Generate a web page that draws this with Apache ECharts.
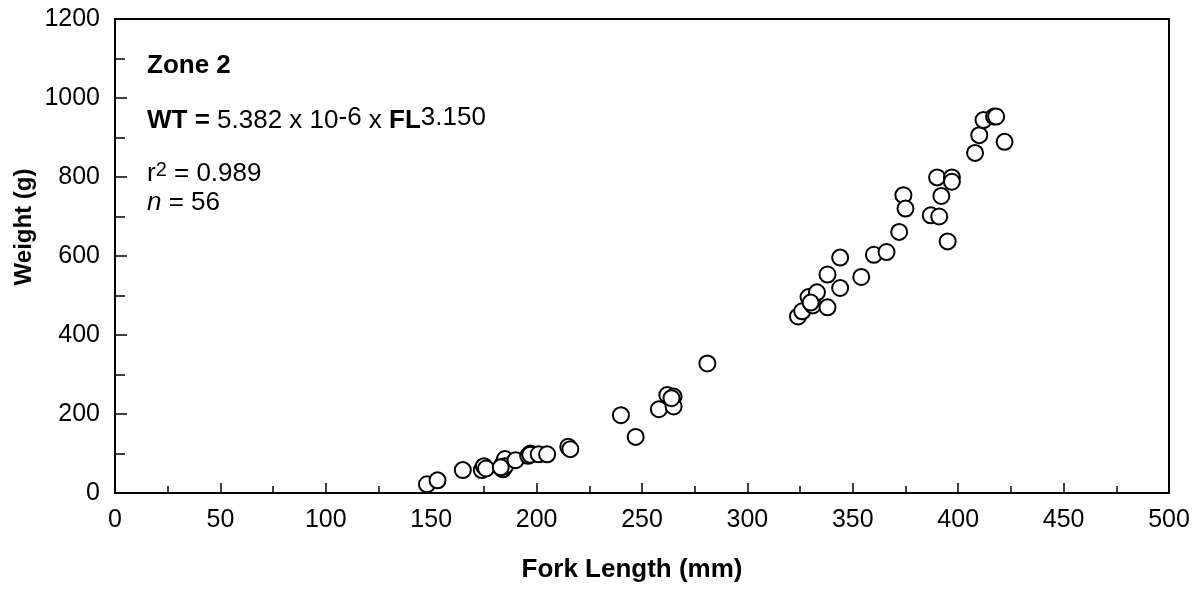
<!DOCTYPE html>
<html>
<head>
<meta charset="utf-8">
<script src="https://cdn.jsdelivr.net/npm/echarts@6/dist/echarts.min.js"></script>
<style>
  html, body { margin: 0; padding: 0; background: #fff; }
  #chart { width: 1200px; height: 590px; }
</style>
</head>
<body>
<div id="chart"></div>
<script>
// fork length (mm) and weight (g)
let forkLength = [148,153,165,174,175,176,184,184,185,185,183,190,196,197,197,201,205,215,216,
  240,247,258,262,265,265,264,281,
  324,326,329,331,333,330,338,338,344,344,354,360,366,372,374,375,
  387,390,391,392,395,397,397,
  408,410,412,417,418,422];
let weight = [22,32,58,58,68,62,60,73,86,68,65,83,94,100,97,98,98,117,111,
  197,142,212,248,244,219,240,328,
  447,460,496,475,508,482,470,553,519,596,547,603,610,661,754,720,
  703,799,700,752,637,799,788,
  861,906,944,953,953,889];

let xTicks = [0,50,100,150,200,250,300,350,400,450,500];
let yTicks = [0,200,400,600,800,1000,1200];

let pts = forkLength.map((v,i)=>[v, weight[i]]);

const FONT = 'Liberation Sans, Arial, Helvetica, sans-serif';

let chart = echarts.init(document.getElementById('chart'), null, {renderer:'canvas'});

chart.setOption({
  backgroundColor:'#fff',
  animation:false,
  textStyle:{fontFamily:FONT, color:'#000'},
  grid:{
    left:115, right:31, top:19, bottom:97,
    show:true, borderColor:'#000', borderWidth:2
  },
  xAxis:{
    type:'value',
    min:xTicks[0], max:xTicks[xTicks.length-1], interval:50,
    axisLine:{lineStyle:{color:'#000', width:2}},
    axisTick:{inside:true, length:10, lineStyle:{color:'#000', width:1.5}},
    minorTick:{show:true, splitNumber:2, length:7, lineStyle:{color:'#000', width:1.5}},
    splitLine:{show:false},
    axisLabel:{color:'#000', fontSize:25, fontFamily:FONT, margin:15, formatter:v=>String(v)}
  },
  yAxis:{
    type:'value',
    min:yTicks[0], max:yTicks[yTicks.length-1], interval:200,
    axisLine:{show:true, lineStyle:{color:'#000', width:2}},
    axisTick:{show:true, inside:true, length:12, lineStyle:{color:'#000', width:1.5}},
    minorTick:{show:true, splitNumber:2, length:10, lineStyle:{color:'#000', width:1.5}},
    splitLine:{show:false},
    axisLabel:{color:'#000', fontSize:25, fontFamily:FONT, margin:15, formatter:v=>String(v)}
  },
  graphic:[
    {
      type:'text', x:632, y:570, z:10,
      style:{text:'Fork Length (mm)', font:'bold 26px ' + FONT, fill:'#000',
        align:'center', verticalAlign:'middle'}
    },
    {
      type:'text', x:24, y:227, rotation:Math.PI/2, z:10,
      style:{text:'Weight (g)', font:'bold 24px ' + FONT, fill:'#000',
        align:'center', verticalAlign:'middle'}
    },
    {
      type:'text', x:147, y:79, z:10,
      style:{text:'Zone 2', font:'bold 26px ' + FONT, fill:'#000',
        align:'left', verticalAlign:'bottom'}
    },
    {
      type:'text', x:147, y:134, z:10,
      style:{
        text:'{b|WT =}{n| 5.382 x 10}{s|-6}{n| x }{b|FL}{s|3.150}',
        align:'left', verticalAlign:'bottom', fill:'#000',
        rich:{
          b:{fontWeight:'bold', fontSize:26, fontFamily:FONT, verticalAlign:'bottom'},
          n:{fontSize:26, fontFamily:FONT, verticalAlign:'bottom'},
          s:{fontSize:26, fontFamily:FONT, verticalAlign:'bottom', padding:[0,0,3,0]}
        }
      }
    },
    {
      type:'text', x:147, y:187, z:10,
      style:{
        text:'{n|r}{s|2}{n| = 0.989}',
        align:'left', verticalAlign:'bottom', fill:'#000',
        rich:{
          n:{fontSize:26, fontFamily:FONT, verticalAlign:'bottom'},
          s:{fontSize:20, fontFamily:FONT, verticalAlign:'bottom', padding:[0,0,7,0]}
        }
      }
    },
    {
      type:'text', x:147, y:216, z:10,
      style:{
        text:'{i|n}{n| = 56}',
        align:'left', verticalAlign:'bottom', fill:'#000',
        rich:{
          i:{fontSize:26, fontStyle:'italic', fontFamily:FONT, verticalAlign:'bottom'},
          n:{fontSize:26, fontFamily:FONT, verticalAlign:'bottom'}
        }
      }
    }
  ],
  series:[{
    type:'scatter',
    data:pts,
    symbol:'circle',
    symbolSize:16,
    itemStyle:{color:'#fff', borderColor:'#000', borderWidth:2, opacity:1}
  }]
});
</script>
</body>
</html>
